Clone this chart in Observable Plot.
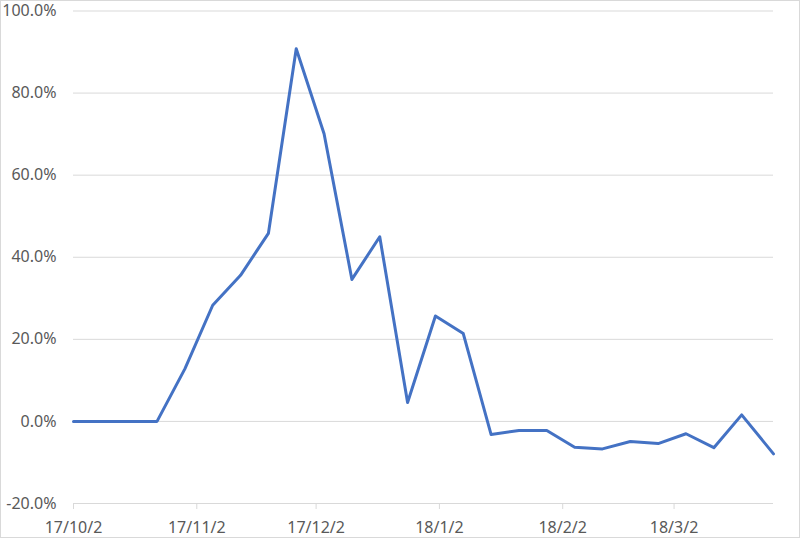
<!DOCTYPE html>
<html>
<head>
<meta charset="utf-8">
<script src="https://cdn.jsdelivr.net/npm/d3@7"></script>
<script src="https://cdn.jsdelivr.net/npm/@observablehq/plot@0.6"></script>
<style>
  html, body { margin: 0; padding: 0; background: #fff; }
  #chart svg { display: block; outline: 1px solid #d9d9d9; outline-offset: -1px; }
</style>
</head>
<body>
<div id="chart"></div>
<script>
const dates = [
  "2017-10-02","2017-10-09","2017-10-16","2017-10-23","2017-10-30",
  "2017-11-06","2017-11-13","2017-11-20","2017-11-27","2017-12-04",
  "2017-12-11","2017-12-18","2017-12-25","2018-01-01","2018-01-08",
  "2018-01-15","2018-01-22","2018-01-29","2018-02-05","2018-02-12",
  "2018-02-19","2018-02-26","2018-03-05","2018-03-12","2018-03-19",
  "2018-03-27"
];
const values = [
  0, 0, 0, 0, 12.8,
  28.3, 35.6, 45.8, 90.8, 70.1,
  34.6, 45.0, 4.6, 25.7, 21.4,
  -3.2, -2.2, -2.2, -6.3, -6.7,
  -4.9, -5.4, -3.0, -6.4, 1.6,
  -7.9
];
const yTicks = [-20, 0, 20, 40, 60, 80, 100];
const xTickDates = ["2017-10-02","2017-11-02","2017-12-02","2018-01-02","2018-02-02","2018-03-02"];

const data = dates.map((d, i) => ({date: new Date(d + "T00:00:00Z"), value: values[i]}));
const xTicks = xTickDates.map(d => new Date(d + "T00:00:00Z"));
const fmtX = d => `${String(d.getUTCFullYear()).slice(2)}/${d.getUTCMonth() + 1}/${d.getUTCDate()}`;

const chart = Plot.plot({
  width: 800,
  height: 538,
  marginLeft: 73,
  marginRight: 27,
  marginTop: 10.5,
  marginBottom: 35,
  style: {fontFamily: "'Noto Sans', 'Open Sans', sans-serif", fontSize: "16px", color: "#595959", background: "#fff"},
  x: {type: "utc", domain: [data[0].date, data[data.length - 1].date]},
  y: {domain: [-20, 100]},
  marks: [
    Plot.ruleY(yTicks, {stroke: "#d9d9d9", strokeWidth: 1}),
    Plot.axisY({ticks: yTicks, tickSize: 0, tickPadding: 17, label: null, tickFormat: d => d.toFixed(1) + "%", fontSize: 16, fill: "#595959"}),
    Plot.axisX({ticks: xTicks, tickSize: 6, stroke: "#d9d9d9", tickPadding: 12, label: null, tickFormat: fmtX, fontSize: 16, fill: "#595959"}),
    Plot.line(data, {x: "date", y: "value", stroke: "#4472C4", strokeWidth: 3, strokeLinejoin: "round", strokeLinecap: "round"})
  ]
});
document.getElementById("chart").appendChild(chart);
</script>
</body>
</html>
